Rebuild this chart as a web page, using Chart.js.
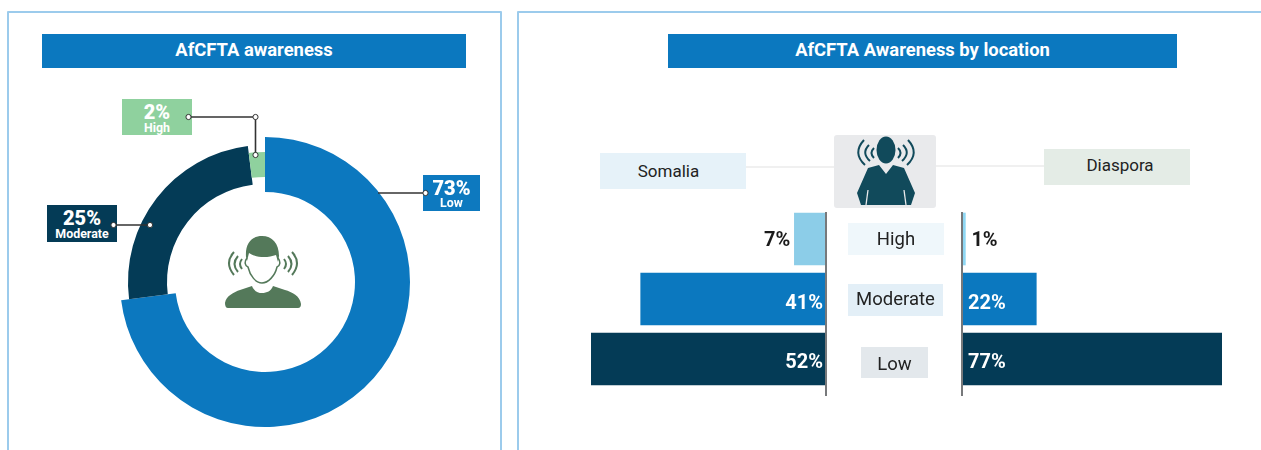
<!DOCTYPE html>
<html>
<head>
<meta charset="utf-8">
<script src="https://cdn.jsdelivr.net/npm/chart.js@4/dist/chart.umd.min.js"></script>
<style>
html,body{margin:0;padding:0;background:#fff;width:1261px;height:450px;overflow:hidden;font-family:Roboto,sans-serif}
#root{position:absolute;left:0;top:0;width:1261px;height:450px;overflow:hidden;filter:blur(.45px)}
.abs{position:absolute}
.panel{position:absolute;border:2px solid #9ccbec;border-radius:1px;box-sizing:border-box}
.title{position:absolute;background:#0b78bf;color:#fff;font-weight:700;font-size:18.4px;display:flex;align-items:center;justify-content:center;height:34px;top:34px;padding-bottom:3px;box-sizing:border-box}
.tag{position:absolute;color:#fff;text-align:center;font-weight:700;box-sizing:border-box}
.tag b{display:block;font-size:20px;line-height:18px;position:absolute;left:0;right:0}
.tag span{display:block;font-size:12.4px;line-height:12px;position:absolute;left:0;right:0}
.box{position:absolute;display:flex;align-items:center;justify-content:center;color:#222;font-size:17px}
.cat{font-size:18.5px}
canvas{display:block}
.cv{position:absolute}
</style>
</head>
<body>
<div id="root">
  <div class="panel" style="left:7px;top:11px;width:495px;height:460px"></div>
  <div class="panel" style="left:517px;top:11px;width:780px;height:460px"></div>
  <div class="title" style="left:42px;width:424px">AfCFTA awareness</div>
  <div class="title" style="left:668px;width:509px">AfCFTA Awareness by location</div>

  <div class="cv" style="left:114.5px;top:132px;width:300px;height:300px"><canvas id="donut"></canvas></div>
  <div class="cv" style="left:591px;top:209px;width:235px;height:180px"><canvas id="left"></canvas></div>
  <div class="cv" style="left:962px;top:209px;width:260px;height:180px"><canvas id="right"></canvas></div>

  <div class="abs" style="left:746px;top:166px;width:88px;height:2px;background:#f0f0f0"></div>
  <div class="abs" style="left:936px;top:165px;width:108px;height:2px;background:#f0f0f0"></div>
  <div class="box" style="left:600px;top:153px;width:146px;height:36px;background:#e6f2f9;padding-right:9px;box-sizing:border-box">Somalia</div>
  <div class="box" style="left:1044px;top:149px;width:146px;height:36px;background:#e4ece6;padding:0 0 4px 6px;box-sizing:border-box">Diaspora</div>
  <div class="abs" style="left:834px;top:135px;width:102px;height:73px;background:#e9eaec;border-radius:3px"></div>

  <div class="box cat" style="left:848px;top:223px;width:96px;height:32px;background:#eff7fb">High</div>
  <div class="box cat" style="left:848px;top:284px;width:95px;height:32px;background:#e3eff7;padding-bottom:3px;box-sizing:border-box">Moderate</div>
  <div class="box cat" style="left:861px;top:347px;width:67px;height:31px;background:#e3e8ec;padding-top:2px;box-sizing:border-box">Low</div>

  <div class="abs" style="left:825px;top:212px;width:2px;height:184px;background:#77797b"></div>
  <div class="abs" style="left:961px;top:212px;width:2px;height:184px;background:#77797b"></div>

  <div class="tag" style="left:122px;top:99px;width:70px;height:36px;background:#8fd19e"><b id="t-high" style="top:4px"></b><span id="l-high" style="top:23px"></span></div>
  <div class="tag" style="left:423px;top:175px;width:57px;height:36px;background:#0d79bf"><b id="t-low" style="top:4px"></b><span id="l-low" style="top:22px"></span></div>
  <div class="tag" style="left:47px;top:205px;width:70px;height:37px;background:#043b56"><b id="t-mod" style="top:4px"></b><span id="l-mod" style="top:23px"></span></div>

  <svg class="abs" style="left:0;top:0" width="1261" height="450" viewBox="0 0 1261 450">
    <g fill="none" stroke="#333" stroke-width="1.6">
      <path d="M188.5 117H255.5V155"/>
      <path d="M378 193H425.5"/>
      <path d="M113.5 225H150"/>
    </g>
    <g fill="#fff" stroke="#333" stroke-width="1">
      <circle cx="188.5" cy="117" r="2.6"/><circle cx="255.5" cy="117" r="2.6"/><circle cx="255.5" cy="155" r="2.6"/>
      <circle cx="425.5" cy="193" r="2.6"/>
      <circle cx="113.5" cy="225" r="2.6"/><circle cx="150" cy="225" r="2.6"/>
    </g>
    <!-- listening icon, donut centre -->
    <g fill="#54795a">
      <path d="M246 257C245 243 252 236 262 236C272 236 279 243 279 256L278 262L276 255C268 258 256 258 249 253L247 261Z"/>
      <path d="M225 303C226 296 234 292 240 290L252 286C254 291 258 293 262 293C267 293 271 291 273 286L285 290C292 292 300 296 301 304Q301 308 298 308L228 308Q225 308 225 303Z"/>
    </g>
    <g fill="none" stroke="#54795a">
      <path stroke-width="1.5" d="M247 258C244 262 245 266 248 267C250 276 256 283 262 283C268 283 275 276 277 267C280 266 281 262 278 258"/>
      <g stroke-width="2">
        <path d="M234 252Q224 263 234 275"/><path d="M238 256Q231 264 238 272"/><path d="M242 259Q238 264 242 269"/>
        <path d="M292 252Q302 263 292 275"/><path d="M288 256Q295 264 288 272"/><path d="M284 259Q288 264 284 269"/>
      </g>
    </g>
    <!-- listening icon, location panel -->
    <g fill="#114a5b">
      <ellipse cx="886" cy="150" rx="9.5" ry="13.5"/>
      <path d="M868 168L879 165L886 174L893 165L904 168L915 193L911 205H861L857 193Z"/>
    </g>
    <g fill="none" stroke="#e9eaec" stroke-width="1.3"><path d="M868 190L866 205"/><path d="M904 190L906 205"/></g>
    <g fill="none" stroke="#114a5b" stroke-width="2">
      <path d="M864 140Q852 153 865 165"/><path d="M869 145Q861 153 870 161"/><path d="M874 148Q869 153 874 158"/>
      <path d="M908 140Q920 153 907 165"/><path d="M903 145Q911 153 902 161"/><path d="M898 148Q903 153 898 158"/>
    </g>
  </svg>
</div>
<script>
// ---- data ----
const awarenessLabels = ['Low', 'Moderate', 'High'];
const awarenessValues = [73, 25, 2];
const levelCategories = ['High', 'Moderate', 'Low'];
const somaliaValues = [7, 41, 52];
const diasporaValues = [1, 22, 77];

// ---- styles ----
const ringColors = ['#0c78bf', '#043b56', '#8fd19e'];
const ringOuter = [145, 137, 130];
const ringInner = [90, 98, 105];
const somaliaColors = ['#8ccde8', '#0b78bf', '#043b56'];
const diasporaColors = ['#8fd7f3', '#0b78bf', '#043b56'];
const labelColors = ['#1a1a1a', '#fff', '#fff'];
const labelDy = [2, 5, 4];

Chart.defaults.animation = false;
Chart.defaults.responsive = true;
Chart.defaults.maintainAspectRatio = false;
Chart.defaults.font.family = 'Roboto, sans-serif';

const ringRadii = {
  id: 'ringRadii',
  afterDatasetsUpdate(chart) {
    chart.getDatasetMeta(0).data.forEach((arc, i) => {
      arc.outerRadius = ringOuter[i];
      arc.innerRadius = ringInner[i];
    });
  }
};

new Chart(document.getElementById('donut'), {
  type: 'doughnut',
  data: { labels: awarenessLabels, datasets: [{ data: awarenessValues, backgroundColor: ringColors, borderWidth: 0 }] },
  options: {
    layout: { padding: 5 },
    cutout: '65%',
    plugins: { legend: { display: false }, tooltip: { enabled: false } }
  },
  plugins: [ringRadii]
});

const tags = [['t-low', 'l-low'], ['t-mod', 'l-mod'], ['t-high', 'l-high']];
tags.forEach((t, i) => {
  document.getElementById(t[0]).textContent = awarenessValues[i] + '%';
  document.getElementById(t[1]).textContent = awarenessLabels[i];
});

function barLabels(side) {
  return {
    id: 'barLabels',
    afterDatasetsDraw(chart) {
      const ctx = chart.ctx;
      const values = chart.data.datasets[0].data;
      ctx.save();
      ctx.font = '700 20px Roboto, sans-serif';
      ctx.textBaseline = 'middle';
      chart.getDatasetMeta(0).data.forEach((bar, i) => {
        ctx.fillStyle = labelColors[i];
        const y = bar.y + labelDy[i];
        const txt = values[i] + '%';
        if (side === 'left') {
          ctx.textAlign = 'right';
          ctx.fillText(txt, i === 0 ? bar.x - 4 : chart.chartArea.right - 3, y);
        } else {
          ctx.textAlign = 'left';
          ctx.fillText(txt, i === 0 ? bar.x + 6 : chart.chartArea.left + 6, y);
        }
      });
      ctx.restore();
    }
  };
}

function barChart(id, values, colors, max, reversed, side) {
  new Chart(document.getElementById(id), {
    type: 'bar',
    data: { labels: levelCategories, datasets: [{ data: values, backgroundColor: colors, borderWidth: 0, barThickness: 52 }] },
    options: {
      indexAxis: 'y',
      layout: { padding: 0 },
      scales: {
        x: { display: false, min: 0, max: max, reverse: reversed },
        y: { display: false }
      },
      plugins: { legend: { display: false }, tooltip: { enabled: false } }
    },
    plugins: [barLabels(side)]
  });
}
barChart('left', somaliaValues, somaliaColors, 52, true, 'left');
barChart('right', diasporaValues, diasporaColors, 77, false, 'right');
</script>
</body>
</html>
